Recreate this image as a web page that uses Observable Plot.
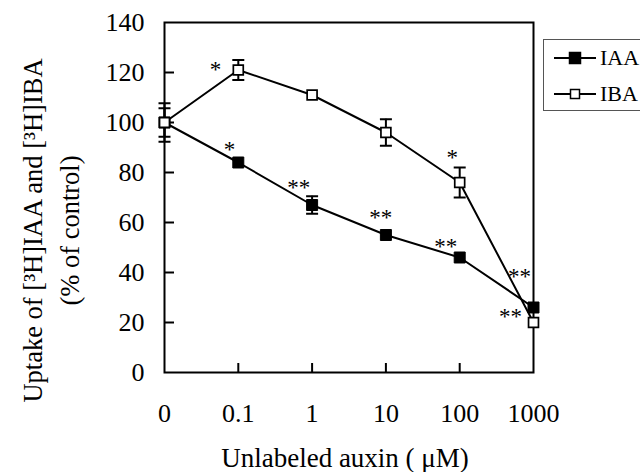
<!DOCTYPE html>
<html><head><meta charset="utf-8">
<script src="https://cdn.jsdelivr.net/npm/d3@7"></script>
<script src="https://cdn.jsdelivr.net/npm/@observablehq/plot@0.6"></script>
<style>
html,body{margin:0;padding:0;background:#fff;overflow:hidden;width:640px;height:472px;}
#wrap{position:relative;width:640px;height:472px;overflow:hidden;font-family:'Liberation Serif',serif;color:#000;}
#wrap svg text{font-family:'Liberation Serif',serif;}
#legend{position:absolute;left:543px;top:39px;width:140px;height:72px;border:1.5px solid #555;box-sizing:border-box;}
.row{position:absolute;left:0;height:22px;display:flex;align-items:center;font-size:22px;}
.row svg{display:block;margin-left:10px;margin-right:4px;}
</style></head><body><div id="wrap"></div>
<script>
const concentrations = ["0","0.1","1","10","100","1000"];
const seriesNames = ["IAA","IBA"];
const iaaValues = [100,84,67,55,46,26];
const iaaErrors = [5.7,0,3.5,0,0,0];
const ibaValues = [100,121,111,96,76,20];
const ibaErrors = [7.7,4,0,5.3,6,0];
const yTicks = [0,20,40,60,80,100,120,140];
const annotX = [0.69,0.88,1.82,2.93,3.90,3.81,4.81,4.69];
const annotY = [122.8,90.8,75.6,63.6,87.6,52,40,24];
const annotText = ["*","*","**","**","*","**","**","**"];

const rows = [];
[[iaaValues,iaaErrors],[ibaValues,ibaErrors]].forEach(([vals,errs],s)=>{
  vals.forEach((v,i)=>rows.push({series:seriesNames[s], x:i, y:v, e:errs[i]}));
});
const iaaRows = rows.filter(d=>d.series==="IAA");
const ibaRows = rows.filter(d=>d.series==="IBA");
const bars = rows.filter(d=>d.e>0);
const annots = annotText.map((t,i)=>({x:annotX[i], y:annotY[i], t}));
const capSymbol = {draw(ctx,size){const w=Math.sqrt(size/Math.PI);ctx.moveTo(-w,0);ctx.lineTo(w,0);}};

const plot = Plot.plot({
  width:640, height:472, marginLeft:164, marginRight:107, marginTop:22, marginBottom:100,
  style:{fontFamily:"'Liberation Serif', serif", fontSize:"26px", color:"black", background:"white"},
  x:{domain:[0,5]},
  y:{domain:[0,140]},
  marks:[
    Plot.axisX(d3.range(6), {tickSize:0, tickPadding:31, tickFormat:i=>concentrations[i], fontSize:26, label:null}),
    Plot.axisX([1,2,3,4], {tickSize:-9, text:null, strokeWidth:2, label:null}),
    Plot.axisY(yTicks, {tickSize:0, tickPadding:20, fontSize:26, label:null}),
    Plot.axisY(yTicks.slice(1,-1), {tickSize:-10, text:null, strokeWidth:2, label:null}),
    Plot.frame({stroke:"black", strokeWidth:2}),
    Plot.lineY(rows, {x:"x", y:"y", z:"series", stroke:"black", strokeWidth:2}),
    Plot.ruleX(bars, {x:"x", y1:d=>d.y-d.e, y2:d=>d.y+d.e, stroke:"black", strokeWidth:2}),
    Plot.dot(bars, {x:"x", y:d=>d.y+d.e, symbol:capSymbol, r:6, stroke:"black", strokeWidth:2, fill:"none"}),
    Plot.dot(bars, {x:"x", y:d=>d.y-d.e, symbol:capSymbol, r:6, stroke:"black", strokeWidth:2, fill:"none"}),
    Plot.dot(iaaRows, {x:"x", y:"y", symbol:"square", r:6.2, fill:"black", stroke:"black", strokeWidth:1}),
    Plot.dot(ibaRows, {x:"x", y:"y", symbol:"square", r:5.6, fill:"white", stroke:"black", strokeWidth:1.7}),
    Plot.text(annots, {x:"x", y:"y", text:"t", fontSize:23, dy:4, fill:"black"}),
    Plot.text(["Unlabeled auxin ( \u03BCM)"], {frameAnchor:"bottom", textAnchor:"middle", lineAnchor:"middle", dx:-4, dy:86, fontSize:27, text:d=>d}),
    Plot.text(["Uptake of [\u00B3H]IAA and [\u00B3H]IBA\n(% of control)"], {frameAnchor:"left", textAnchor:"middle", lineAnchor:"middle", rotate:-90, dx:-116, dy:33, lineHeight:1.4, fontSize:26.5, text:d=>d})
  ]
});
const wrap = document.getElementById("wrap");
wrap.appendChild(plot);

// legend
const legend = document.createElement("div");
legend.id = "legend";
wrap.appendChild(legend);
seriesNames.forEach((name,i)=>{
  const row = document.createElement("div");
  row.className = "row";
  row.style.top = (i===0 ? 7 : 43) + "px";
  const svg = d3.create("svg").attr("width",42).attr("height",20);
  svg.append("line").attr("x1",0).attr("x2",42).attr("y1",10).attr("y2",10).attr("stroke","black").attr("stroke-width",2);
  const s = i===0 ? 11 : 9;
  svg.append("rect").attr("x",21-s/2).attr("y",10-s/2).attr("width",s).attr("height",s)
    .attr("fill",i===0?"black":"white").attr("stroke","black").attr("stroke-width",1.5);
  row.appendChild(svg.node());
  const span = document.createElement("span");
  span.textContent = name;
  row.appendChild(span);
  legend.appendChild(row);
});
</script></body></html>
